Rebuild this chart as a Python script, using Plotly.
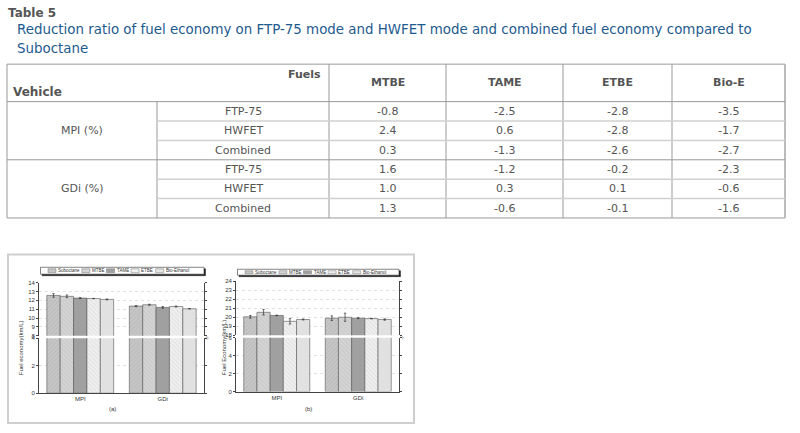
import plotly.graph_objects as go

# 表格数据（Table 5）
table_fuels = ['MTBE', 'TAME', 'ETBE', 'Bio-E']
table_modes = ['FTP-75', 'HWFET', 'Combined']
table_vehicles = ['MPI (%)', 'GDi (%)']
mpi_ratio = [[-0.8, -2.5, -2.8, -3.5],
             [2.4, 0.6, -2.8, -1.7],
             [0.3, -1.3, -2.6, -2.7]]
gdi_ratio = [[1.6, -1.2, -0.2, -2.3],
             [1.0, 0.3, 0.1, -0.6],
             [1.3, -0.6, -0.1, -1.6]]

# 柱状图数据（图 a: FTP-75, 图 b: HWFET）
chart_fuels = ['Suboctane', 'MTBE', 'TAME', 'ETBE', 'Bio-Ethanol']
engines = ['MPI', 'GDi']
ftp_mpi = [12.55, 12.45, 12.25, 12.2, 12.1]
ftp_gdi = [11.35, 11.5, 11.2, 11.3, 11.05]
ftp_mpi_err = [0.2, 0.15, 0.05, 0.02, 0.05]
ftp_gdi_err = [0.06, 0.06, 0.1, 0.05, 0.02]
hw_mpi = [20.05, 20.55, 20.2, 19.55, 19.75]
hw_gdi = [19.9, 20.0, 19.9, 19.85, 19.75]
hw_mpi_err = [0.15, 0.3, 0.03, 0.3, 0.05]
hw_gdi_err = [0.25, 0.45, 0.05, 0.02, 0.08]
ftp_low_ticks = [0, 2, 4]
ftp_high_ticks = [8, 9, 10, 11, 12, 13, 14]
hw_low_ticks = [0, 2, 4, 6]
hw_high_ticks = [18, 19, 20, 21, 22, 23, 24]

W, H = 800, 433


def px(x):
    return x / W


def py(y):
    return 1 - y / H


fig = go.Figure()
shapes = []
annos = []


def text(x, y, s, size, color='#555', bold=False, anchor='center', font='DejaVu Sans', angle=0):
    if bold:
        s = '<b>' + s + '</b>'
    annos.append(dict(x=px(x), y=py(y), xref='paper', yref='paper', text=s, showarrow=False,
                      xanchor=anchor, yanchor='middle', textangle=angle, borderpad=0,
                      font=dict(family=font, size=size, color=color)))


def line(x0, y0, x1, y1, color='#999', width=1):
    shapes.append(dict(type='line', xref='paper', yref='paper', x0=px(x0), y0=py(y0),
                       x1=px(x1), y1=py(y1), line=dict(color=color, width=width)))


def rect(x0, y0, x1, y1, fill='rgba(0,0,0,0)', color='#999', width=1):
    shapes.append(dict(type='rect', xref='paper', yref='paper', x0=px(x0), y0=py(y0),
                       x1=px(x1), y1=py(y1), fillcolor=fill, line=dict(color=color, width=width)))


# ---- 表格 ----
text(7, 10, 'Table 5', 12, '#555', bold=True, anchor='left')
text(16, 27, 'Reduction ratio of fuel economy on FTP-75 mode and HWFET mode and combined fuel economy compared to',
     13.4, '#1d5a8e', anchor='left')
text(16, 46, 'Suboctane', 13.4, '#1d5a8e', anchor='left')

cols = [7, 157, 329, 446, 563, 672, 785]
top, head_bot, bot = 62, 100, 218
rh = (bot - head_bot) / 6

rect(cols[0], top, cols[-1], bot, color='#999')
line(cols[-1], top, cols[-1], bot, '#bbb', 2)
line(cols[0], head_bot, cols[-1], head_bot, '#999')
for c in cols[2:-1]:
    line(c, top, c, bot, '#999')
line(cols[1], head_bot, cols[1], bot, '#999')
for g in range(2):
    for r in (1, 2):
        yy = head_bot + (3 * g + r) * rh
        line(cols[1], yy, cols[-1], yy, '#d0d0d0', 1.5)
line(cols[0], head_bot + 3 * rh, cols[-1], head_bot + 3 * rh, '#999')

text(cols[2] - 7, 73, 'Fuels', 11, '#555', bold=True, anchor='right')
text(12, 90, 'Vehicle', 12, '#555', bold=True, anchor='left')
for j, f in enumerate(table_fuels):
    text((cols[j + 2] + cols[j + 3]) / 2, 81, f, 11, '#555', bold=True)

for g, (veh, data) in enumerate(zip(table_vehicles, [mpi_ratio, gdi_ratio])):
    text((cols[0] + cols[1]) / 2, head_bot + (3 * g + 1.5) * rh, veh, 11)
    for r, mode in enumerate(table_modes):
        yc = head_bot + (3 * g + r + 0.5) * rh
        text((cols[1] + cols[2]) / 2, yc, mode, 11)
        for j, v in enumerate(data[r]):
            text((cols[j + 2] + cols[j + 3]) / 2, yc, f'{v:.1f}', 11)

# ---- 柱状图 ----
rect(8, 255, 414, 426, color='#cfcfcf', width=2)

styles = [
    dict(bgcolor='#c6c6c6', fgcolor='#acacac', shape='/', size=3),
    dict(bgcolor='#d4d4d4', fgcolor='#bababa', shape='\\', size=3),
    dict(bgcolor='#a2a2a2', fgcolor='#929292', shape='x', size=2),
    dict(bgcolor='#f0f0f0', fgcolor='#cccccc', shape='\\', size=3),
    dict(bgcolor='#e6e6e6', fgcolor='#c2c2c2', shape='-', size=2),
]

panels = [
    dict(mpi=ftp_mpi, gdi=ftp_gdi, me=ftp_mpi_err, ge=ftp_gdi_err,
         low=ftp_low_ticks, high=ftp_high_ticks, x0=39, x1=204,
         ylow=(395.7, 340), yhigh=(337.5, 283.5), leg=(268, 275),
         ytitle='Fuel economy(km/L)', tx=21, tag='(a)'),
    dict(mpi=hw_mpi, gdi=hw_gdi, me=hw_mpi_err, ge=hw_gdi_err,
         low=hw_low_ticks, high=hw_high_ticks, x0=236, x1=399,
         ylow=(394, 339.5), yhigh=(337, 282), leg=(270, 276),
         ytitle='Fuel Economy(km/L)', tx=224, tag='(b)'),
]

tick_font = dict(family='Liberation Sans', size=6, color='#333')
for p_i, p in enumerate(panels):
    n = 2 * p_i
    xa, xa_top = f'x{n + 1 if n else ""}', f'x{n + 2}'
    ya_low, ya_high = f'y{n + 1 if n else ""}', f'y{n + 2}'
    for i, fuel in enumerate(chart_fuels):
        for ya in (ya_low, ya_high):
            fig.add_trace(go.Bar(
                x=engines, y=[p['mpi'][i], p['gdi'][i]], name=fuel,
                xaxis=xa, yaxis=ya, showlegend=False,
                marker=dict(color=styles[i]['bgcolor'], line=dict(color='#555', width=0.6),
                            pattern=dict(shape=styles[i]['shape'], fgcolor=styles[i]['fgcolor'],
                                         bgcolor=styles[i]['bgcolor'], size=styles[i]['size'],
                                         solidity=0.3)),
                error_y=dict(type='data', array=[p['me'][i], p['ge'][i]],
                             thickness=0.7, width=1.2, color='#333'),
            ))

    dom_x = [px(p['x0']), px(p['x1'])]
    axis_common = dict(showline=True, linecolor='#444', linewidth=0.8, mirror='ticks',
                       ticks='outside', ticklen=2, tickcolor='#444', tickwidth=0.6,
                       tickfont=tick_font, showgrid=True, gridcolor='#e2e2e2', griddash='dot',
                       gridwidth=0.6, zeroline=False, fixedrange=True)
    fig.update_layout(**{
        xa.replace('x', 'xaxis'): dict(domain=dom_x, anchor=ya_low, type='category',
                                       range=[-0.5, 1.5], showline=True, linecolor='#444',
                                       linewidth=0.8, ticks='', tickfont=tick_font,
                                       showgrid=False, fixedrange=True),
        xa_top.replace('x', 'xaxis'): dict(domain=dom_x, anchor=ya_high, side='top', type='linear',
                                           range=[-0.5, 1.5], tickvals=[0, 1], showticklabels=False,
                                           showline=True, linecolor='#444', linewidth=0.8,
                                           ticks='inside', ticklen=2, tickcolor='#444',
                                           showgrid=False, fixedrange=True),
        ya_low.replace('y', 'yaxis'): dict(domain=[py(p['ylow'][0]), py(p['ylow'][1])], anchor=xa,
                                           range=[p['low'][0], p['low'][-1]], tickvals=p['low'],
                                           **axis_common),
        ya_high.replace('y', 'yaxis'): dict(domain=[py(p['yhigh'][0]), py(p['yhigh'][1])], anchor=xa,
                                            range=[p['high'][0], p['high'][-1]], tickvals=p['high'],
                                            **axis_common),
    })

    # 断轴标记
    text(p['x1'] + 3, (p['ylow'][1] + p['yhigh'][0]) / 2, '//', 5, '#444',
         font='Liberation Sans', angle=-60)
    # 坐标轴标题与子图编号
    text(p['tx'], 350, p['ytitle'], 6, '#333', font='Liberation Sans', angle=-90)
    text((p['x0'] + p['x1']) / 2 - 9, 412, p['tag'], 6, '#333', font='Liberation Sans')

    # 图例框（带阴影）
    ly0, ly1 = p['leg']
    rect(p['x0'] + 3, ly0 + 1.5, p['x1'] + 1.5, ly1 + 1.5, fill='#222', color='#222', width=0.5)
    rect(p['x0'] + 1.5, ly0, p['x1'], ly1, fill='white', color='#333', width=0.6)
    cx = p['x0'] + 9
    for i, fuel in enumerate(chart_fuels):
        rect(cx, ly0 + 1.5, cx + 8, ly1 - 1.5, fill=styles[i]['bgcolor'], color='#777', width=0.5)
        text(cx + 9, (ly0 + ly1) / 2, fuel, 4.5, '#333', anchor='left', font='Liberation Sans')
        cx += 13 + sum(2.9 if ch.isupper() else 2.25 for ch in fuel)

fig.update_layout(
    width=W, height=H, margin=dict(l=0, r=0, t=0, b=0),
    paper_bgcolor='white', plot_bgcolor='white',
    barmode='group', bargap=0.19, bargroupgap=0,
    shapes=shapes, annotations=annos, showlegend=False,
)

# 去掉页面默认的 8px 边距，使图与窗口左上角对齐；隐藏工具栏
fig.write_html('out.html', config={'displayModeBar': False},
               post_script="document.body.style.margin='0px';")
